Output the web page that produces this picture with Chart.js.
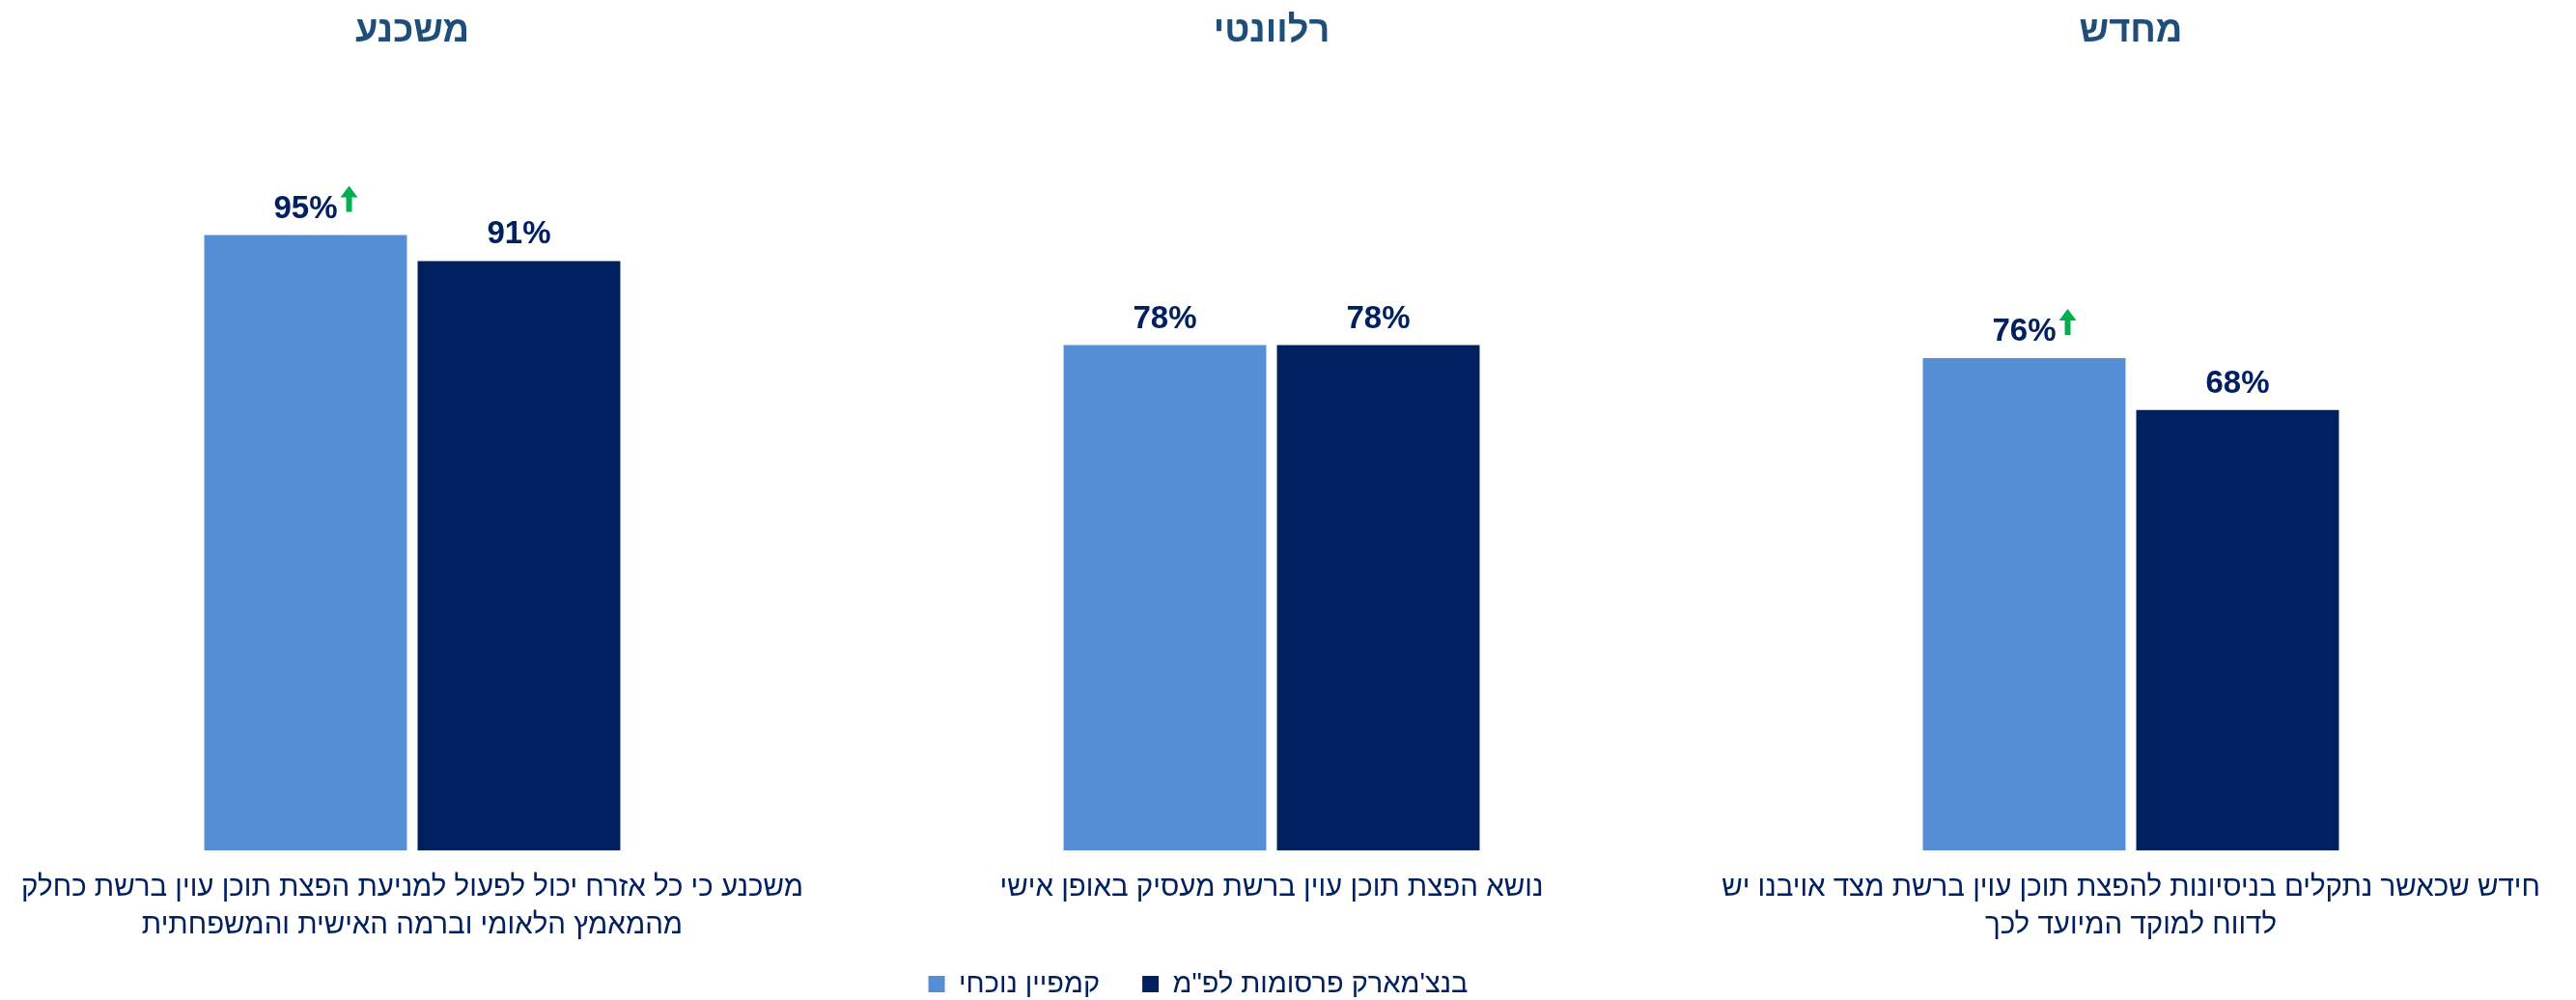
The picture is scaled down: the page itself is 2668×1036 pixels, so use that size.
<!DOCTYPE html>
<html>
<head>
<meta charset="utf-8">
<script src="https://cdn.jsdelivr.net/npm/chart.js@4/dist/chart.umd.min.js"></script>
<style>
  html, body { margin: 0; padding: 0; background: #fff; overflow: hidden; }
  #wrap { position: relative; width: 2668px; height: 1036px; overflow: hidden; }
  #chart { position: absolute; left: -18px; top: 0; }
</style>
</head>
<body>
<div id="wrap"><canvas id="chart" width="2670" height="1064"></canvas></div>
<script>
const titles = ['משכנע', 'רלוונטי', 'מחדש'];
const statements = [
  ['משכנע כי כל אזרח יכול לפעול למניעת הפצת תוכן עוין ברשת כחלק', 'מהמאמץ הלאומי וברמה האישית והמשפחתית'],
  'נושא הפצת תוכן עוין ברשת מעסיק באופן אישי',
  ['חידש שכאשר נתקלים בניסיונות להפצת תוכן עוין ברשת מצד אויבנו יש', 'לדווח למוקד המיועד לכך']
];
const seriesNames = ['קמפיין נוכחי', 'בנצ\'מארק פרסומות לפ"מ'];
const campaign = [95, 78, 76];
const benchmark = [91, 78, 68];
// green up arrow next to the campaign value
const campaignUp = [true, false, true];

const FONT = '"Liberation Sans", Arial, sans-serif';
const NAVY = '#002060';
const legendShiftX = -76;
const legendShiftY = -20;

function drawArrow(ctx, left, top, bottom) {
  const cx = left + 9;
  ctx.fillStyle = '#00B050';
  ctx.beginPath();
  ctx.moveTo(cx, top);
  ctx.lineTo(cx + 9, top + 12);
  ctx.lineTo(cx + 3, top + 12);
  ctx.lineTo(cx + 3, bottom);
  ctx.lineTo(cx - 3, bottom);
  ctx.lineTo(cx - 3, top + 12);
  ctx.lineTo(cx - 9, top + 12);
  ctx.closePath();
  ctx.fill();
}

const valueLabels = {
  id: 'valueLabels',
  afterDatasetsDraw(chart) {
    const ctx = chart.ctx;
    ctx.save();
    ctx.font = 'bold 33px ' + FONT;
    ctx.textAlign = 'center';
    ctx.textBaseline = 'alphabetic';
    chart.data.datasets.forEach((ds, di) => {
      chart.getDatasetMeta(di).data.forEach((bar, i) => {
        const txt = ds.data[i] + '%';
        const y = bar.y - 18;
        ctx.fillStyle = NAVY;
        ctx.fillText(txt, bar.x, y);
        if (ds.up && ds.up[i]) {
          const w = ctx.measureText(txt).width;
          drawArrow(ctx, bar.x + w / 2 + 3, y - 33, y - 6);
        }
      });
    });
    ctx.restore();
  }
};

// legend sits a bit left of centre and tight under the labels in the original
const legendOffset = {
  id: 'legendOffset',
  afterLayout(chart) {
    const lg = chart.legend;
    lg.left += legendShiftX;
    lg.right += legendShiftX;
    lg.top += legendShiftY;
    lg.bottom += legendShiftY;
  }
};

new Chart(document.getElementById('chart'), {
  type: 'bar',
  data: {
    labels: statements,
    datasets: [
      {
        label: seriesNames[0],
        data: campaign,
        up: campaignUp,
        backgroundColor: '#558ED5',
        borderWidth: 0
      },
      {
        label: seriesNames[1],
        data: benchmark,
        backgroundColor: NAVY,
        borderWidth: 0
      }
    ]
  },
  options: {
    responsive: false,
    animation: false,
    categoryPercentage: 0.4966,
    barPercentage: 0.95,
    layout: { padding: 0 },
    scales: {
      x: {
        grid: { display: false, drawTicks: false },
        border: { display: false },
        ticks: {
          font: { family: FONT, size: 29.5, lineHeight: 1.33 },
          color: NAVY,
          padding: 19,
          maxRotation: 0,
          autoSkip: false
        },
        afterFit(scale) { scale.height = 100; }
      },
      top: {
        type: 'category',
        position: 'top',
        labels: titles,
        offset: true,
        grid: { display: false, drawTicks: false },
        border: { display: false },
        ticks: {
          font: { family: FONT, size: 38, weight: 'bold' },
          color: '#1F4E79',
          padding: 155,
          maxRotation: 0,
          autoSkip: false
        },
        afterFit(scale) { scale.height = 210; }
      },
      y: { display: false, min: 0, max: 100 }
    },
    plugins: {
      legend: {
        position: 'bottom',
        labels: {
          font: { family: FONT, size: 29 },
          color: NAVY,
          boxWidth: 17,
          boxHeight: 17,
          padding: 44
        }
      },
      tooltip: { enabled: false }
    }
  },
  plugins: [valueLabels, legendOffset]
});
</script>
</body>
</html>
